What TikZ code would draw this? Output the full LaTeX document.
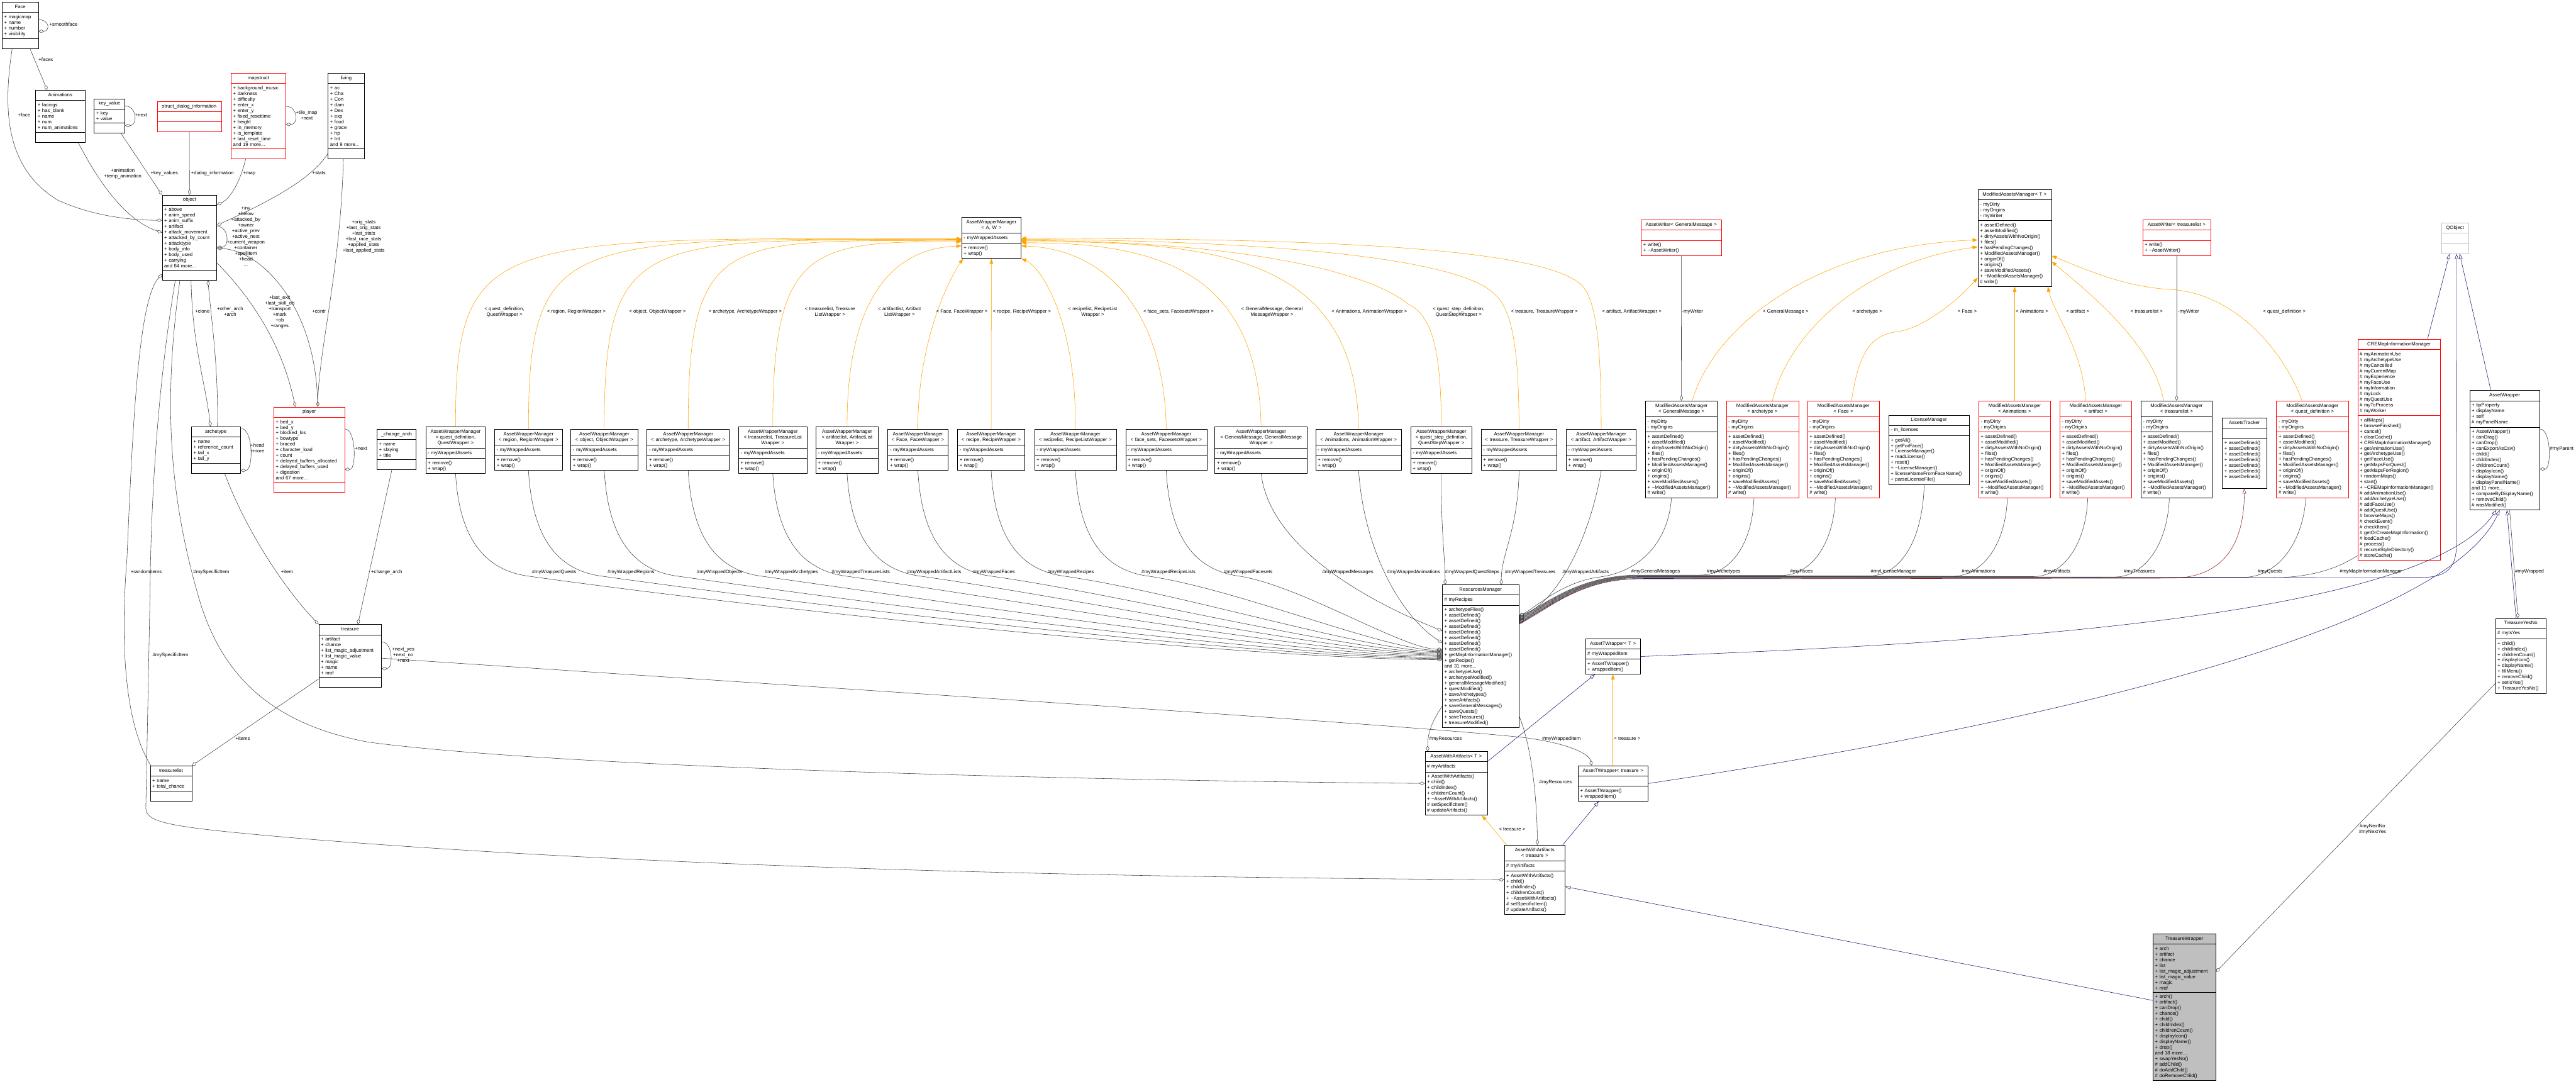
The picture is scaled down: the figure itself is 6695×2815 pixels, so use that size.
\documentclass[tikz,border=0pt]{standalone}
\usepackage{fontspec}
\setmainfont{Liberation Sans}
\usepackage{tikz}
\usetikzlibrary{arrows.meta,shapes.multipart,calc}

\definecolor{dxorange}{HTML}{FFA500}
\definecolor{dxblue}{HTML}{191970}
\definecolor{dxgrey}{HTML}{404040}
\definecolor{dxred}{HTML}{FF0000}
\definecolor{dxbrick}{HTML}{8B1A1A}
\definecolor{dxlight}{HTML}{BFBFBF}

\newcommand\cfont{\fontsize{9.5}{11}\selectfont\strut}
\newcommand\ctitle[1]{\makebox[\linewidth]{\begin{tabular}[t]{@{}c@{}}#1\end{tabular}}}
\newcommand\wrapops{+ remove()\\+ wrap()}
\newcommand\mamops{+ assetDefined()\\+ assetModified()\\+ dirtyAssetsWithNoOrigin()\\+ files()\\+ hasPendingChanges()\\+ ModifiedAssetsManager()\\+ originOf()\\+ origins()\\+ saveModifiedAssets()\\+ \textasciitilde ModifiedAssetsManager()\\\# write()}
\newcommand\awaops{+ AssetWithArtifacts()\\+ child()\\+ childIndex()\\+ childrenCount()\\+ \textasciitilde AssetWithArtifacts()\\\# setSpecificItem()\\\# updateArtifacts()}

\begin{document}
\begin{tikzpicture}[x=0.75pt, y=-0.75pt,
  cls/.style={rectangle split, rectangle split parts=3, draw=black, line width=0.8pt, anchor=north west,
    inner xsep=4pt, inner ysep=4pt, align=left, font=\cfont, fill=white},
  redcls/.style={cls, draw=dxred},
  cw/.style={text width={0.75*#1pt-8pt}},
  member/.style={draw=dxgrey, line width=0.7pt, -{Diamond[open, length=11pt, width=6.5pt]}},
  inherit/.style={draw=dxblue, line width=0.7pt, -{Triangle[open, length=10pt, width=7pt]}},
  privinh/.style={draw=dxbrick, line width=0.7pt, -{Triangle[open, length=10pt, width=7pt]}},
  tmpl/.style={draw=dxorange, line width=0.7pt, -{Triangle[length=10pt, width=7pt]}},
  lbl/.style={font=\cfont, align=center, inner sep=0pt},
]
\useasboundingbox (0,0) rectangle (6695,2815);

% game structures
\node[cls, cw=94] (face) at (5,5) {\ctitle{Face}
  \nodepart{second} + magicmap\\+ name\\+ number\\+ visibility
  \nodepart{third}};
\node[cls, cw=128] (animations) at (92,234) {\ctitle{Animations}
  \nodepart{second} + facings\\+ has\_blank\\+ name\\+ num\\+ num\_animations
  \nodepart{third}};
\node[cls, cw=80] (keyvalue) at (244,256) {\ctitle{key\_value}
  \nodepart{second} + key\\+ value
  \nodepart{third}};
\node[redcls, cw=167] (dialoginfo) at (408,263) {\ctitle{struct\_dialog\_information}
  \nodepart{second}
  \nodepart{third}};
\node[redcls, cw=142] (mapstruct) at (600,190) {\ctitle{mapstruct}
  \nodepart{second} + background\_music\\+ darkness\\+ difficulty\\+ enter\_x\\+ enter\_y\\+ fixed\_resettime\\+ height\\+ in\_memory\\+ is\_template\\+ last\_reset\_time\\and 19 more...
  \nodepart{third}};
\node[cls, cw=94] (living) at (852,190) {\ctitle{living}
  \nodepart{second} + ac\\+ Cha\\+ Con\\+ dam\\+ Dex\\+ exp\\+ food\\+ grace\\+ hp\\+ Int\\and 9 more...
  \nodepart{third}};
\node[cls, cw=142] (object) at (421,506) {\ctitle{object}
  \nodepart{second} + above\\+ anim\_speed\\+ anim\_suffix\\+ artifact\\+ attack\_movement\\+ attacked\_by\_count\\+ attacktype\\+ body\_info\\+ body\_used\\+ carrying\\and 84 more...
  \nodepart{third}};
\node[cls, cw=127] (archetype) at (497,1108) {\ctitle{archetype}
  \nodepart{second} + name\\+ reference\_count\\+ tail\_x\\+ tail\_y
  \nodepart{third}};
\node[redcls, cw=184] (player) at (711,1057) {\ctitle{player}
  \nodepart{second} + bed\_x\\+ bed\_y\\+ blocked\_los\\+ bowtype\\+ braced\\+ character\_load\\+ count\\+ delayed\_buffers\_allocated\\+ delayed\_buffers\_used\\+ digestion\\and 67 more...
  \nodepart{third}};
\node[cls, cw=102] (changearch) at (979,1115) {\ctitle{\_change\_arch}
  \nodepart{second} + name\\+ slaying\\+ title
  \nodepart{third}};
\node[cls, cw=163] (treasure) at (828,1622) {\ctitle{treasure}
  \nodepart{second} + artifact\\+ chance\\+ list\_magic\_adjustment\\+ list\_magic\_value\\+ magic\\+ name\\+ nrof
  \nodepart{third}};
\node[cls, cw=108] (treasurelist) at (390,1989) {\ctitle{treasurelist}
  \nodepart{second} + name\\+ total\_chance
  \nodepart{third}};

% wrapper managers
\node[cls, cw=154] (awmbase) at (2499,564) {\ctitle{AssetWrapperManager\\< A, W >}
  \nodepart{second} - myWrappedAssets
  \nodepart{third} \wrapops};
\node[cls, cw=155] (awmquest) at (1106,1108) {\ctitle{AssetWrapperManager\\< quest\_definition,\\QuestWrapper >}
  \nodepart{second} - myWrappedAssets
  \nodepart{third} \wrapops};
\node[cls, cw=176] (awmregion) at (1285,1115) {\ctitle{AssetWrapperManager\\< region, RegionWrapper >}
  \nodepart{second} - myWrappedAssets
  \nodepart{third} \wrapops};
\node[cls, cw=174] (awmobject) at (1483,1115) {\ctitle{AssetWrapperManager\\< object, ObjectWrapper >}
  \nodepart{second} - myWrappedAssets
  \nodepart{third} \wrapops};
\node[cls, cw=214] (awmarch) at (1681,1115) {\ctitle{AssetWrapperManager\\< archetype, ArchetypeWrapper >}
  \nodepart{second} - myWrappedAssets
  \nodepart{third} \wrapops};
\node[cls, cw=178] (awmtlist) at (1919,1108) {\ctitle{AssetWrapperManager\\< treasurelist, TreasureList\\Wrapper >}
  \nodepart{second} - myWrappedAssets
  \nodepart{third} \wrapops};
\node[cls, cw=162] (awmalist) at (2120,1108) {\ctitle{AssetWrapperManager\\< artifactlist, ArtifactList\\Wrapper >}
  \nodepart{second} - myWrappedAssets
  \nodepart{third} \wrapops};
\node[cls, cw=156] (awmface) at (2307,1115) {\ctitle{AssetWrapperManager\\< Face, FaceWrapper >}
  \nodepart{second} - myWrappedAssets
  \nodepart{third} \wrapops};
\node[cls, cw=175] (awmrecipe) at (2488,1115) {\ctitle{AssetWrapperManager\\< recipe, RecipeWrapper >}
  \nodepart{second} - myWrappedAssets
  \nodepart{third} \wrapops};
\node[cls, cw=213] (awmrlist) at (2688,1115) {\ctitle{AssetWrapperManager\\< recipelist, RecipeListWrapper >}
  \nodepart{second} - myWrappedAssets
  \nodepart{third} \wrapops};
\node[cls, cw=211] (awmfsets) at (2925,1115) {\ctitle{AssetWrapperManager\\< face\_sets, FacesetsWrapper >}
  \nodepart{second} - myWrappedAssets
  \nodepart{third} \wrapops};
\node[cls, cw=240] (awmmsg) at (3157,1108) {\ctitle{AssetWrapperManager\\< GeneralMessage, GeneralMessage\\Wrapper >}
  \nodepart{second} - myWrappedAssets
  \nodepart{third} \wrapops};
\node[cls, cw=223] (awmanim) at (3419,1115) {\ctitle{AssetWrapperManager\\< Animations, AnimationWrapper >}
  \nodepart{second} - myWrappedAssets
  \nodepart{third} \wrapops};
\node[cls, cw=159] (awmqstep) at (3666,1108) {\ctitle{AssetWrapperManager\\< quest\_step\_definition,\\QuestStepWrapper >}
  \nodepart{second} - myWrappedAssets
  \nodepart{third} \wrapops};
\node[cls, cw=197] (awmtreasure) at (3849,1115) {\ctitle{AssetWrapperManager\\< treasure, TreasureWrapper >}
  \nodepart{second} - myWrappedAssets
  \nodepart{third} \wrapops};
\node[cls, cw=182] (awmartifact) at (4070,1115) {\ctitle{AssetWrapperManager\\< artifact, ArtifactWrapper >}
  \nodepart{second} - myWrappedAssets
  \nodepart{third} \wrapops};

% modified assets managers
\node[cls, cw=191] (mambase) at (5140,492) {\ctitle{ModifiedAssetsManager< T >}
  \nodepart{second} - myDirty\\- myOrigins\\- myWriter
  \nodepart{third} \mamops};
\node[redcls, cw=208] (writermsg) at (4265,571) {\ctitle{AssetWriter< GeneralMessage >}
  \nodepart{second}
  \nodepart{third} + write()\\+ \textasciitilde AssetWriter()};
\node[redcls, cw=177] (writertlist) at (5568,571) {\ctitle{AssetWriter< treasurelist >}
  \nodepart{second}
  \nodepart{third} + write()\\+ \textasciitilde AssetWriter()};
\node[cls, cw=187] (mammsg) at (4276,1041) {\ctitle{ModifiedAssetsManager\\< GeneralMessage >}
  \nodepart{second} - myDirty\\- myOrigins
  \nodepart{third} \mamops};
\node[redcls, cw=188] (mamarch) at (4486,1041) {\ctitle{ModifiedAssetsManager\\< archetype >}
  \nodepart{second} - myDirty\\- myOrigins
  \nodepart{third} \mamops};
\node[redcls, cw=187] (mamface) at (4697,1041) {\ctitle{ModifiedAssetsManager\\< Face >}
  \nodepart{second} - myDirty\\- myOrigins
  \nodepart{third} \mamops};
\node[cls, cw=209] (license) at (4908,1078) {\ctitle{LicenseManager}
  \nodepart{second} - m\_licenses
  \nodepart{third} + getAll()\\+ getForFace()\\+ LicenseManager()\\+ readLicense()\\+ reset()\\+ \textasciitilde LicenseManager()\\+ licenseNameFromFaceName()\\+ parseLicenseFile()};
\node[redcls, cw=187] (mamanim) at (5142,1041) {\ctitle{ModifiedAssetsManager\\< Animations >}
  \nodepart{second} - myDirty\\- myOrigins
  \nodepart{third} \mamops};
\node[redcls, cw=187] (mamartifact) at (5353,1041) {\ctitle{ModifiedAssetsManager\\< artifact >}
  \nodepart{second} - myDirty\\- myOrigins
  \nodepart{third} \mamops};
\node[cls, cw=185] (mamtlist) at (5564,1041) {\ctitle{ModifiedAssetsManager\\< treasurelist >}
  \nodepart{second} - myDirty\\- myOrigins
  \nodepart{third} \mamops};
\node[cls, cw=115] (tracker) at (5775,1085) {\ctitle{AssetsTracker}
  \nodepart{second}
  \nodepart{third} + assetDefined()\\+ assetDefined()\\+ assetDefined()\\+ assetDefined()\\+ assetDefined()\\+ assetDefined()\\+ assetDefined()\rule[-15pt]{0pt}{15pt}};
\node[redcls, cw=187] (mamquest) at (5916,1041) {\ctitle{ModifiedAssetsManager\\< quest\_definition >}
  \nodepart{second} - myDirty\\- myOrigins
  \nodepart{third} \mamops};

% right column
\node[cls, draw=dxlight, cw=70] (qobject) at (6345,579) {\ctitle{QObject}
  \nodepart{second}
  \nodepart{third}};
\node[redcls, cw=215] (cremap) at (6127,881) {\ctitle{CREMapInformationManager}
  \nodepart{second} \# myAnimationUse\\\# myArchetypeUse\\\# myCancelled\\\# myCurrentMap\\\# myExperience\\\# myFaceUse\\\# myInformation\\\# myLock\\\# myQuestUse\\\# myToProcess\\\# myWorker
  \nodepart{third} + allMaps()\\+ browseFinished()\\+ cancel()\\+ clearCache()\\+ CREMapInformationManager()\\+ getAnimationUse()\\+ getArchetypeUse()\\+ getFaceUse()\\+ getMapsForQuest()\\+ getMapsForRegion()\\+ randomMaps()\\+ start()\\+ \textasciitilde CREMapInformationManager()\\\# addAnimationUse()\\\# addArchetypeUse()\\\# addFaceUse()\\\# addQuestUse()\\\# browseMaps()\\\# checkEvent()\\\# checkItem()\\\# getOrCreateMapInformation()\\\# loadCache()\\\# process()\\\# recurseStyleDirectory()\\\# storeCache()};
\node[cls, cw=182] (assetwrapper) at (6418,1014) {\ctitle{AssetWrapper}
  \nodepart{second} + tipProperty\\+ displayName\\+ self\\\# myPanelName
  \nodepart{third} + AssetWrapper()\\+ canDrag()\\+ canDrop()\\+ canExportAsCsv()\\+ child()\\+ childIndex()\\+ childrenCount()\\+ displayIcon()\\+ displayName()\\+ displayPanelName()\\and 11 more...\\+ compareByDisplayName()\\+ removeChild()\\\# wasModified()};
\node[cls, cw=131] (yesno) at (6485,1606) {\ctitle{TreasureYesNo}
  \nodepart{second} \# myIsYes
  \nodepart{third} + child()\\+ childIndex()\\+ childrenCount()\\+ displayIcon()\\+ displayName()\\+ fillMenu()\\+ removeChild()\\+ setIsYes()\\+ TreasureYesNo()};
\node[cls, fill=dxlight, cw=163] (twrapper) at (5595,2426) {\ctitle{TreasureWrapper}
  \nodepart{second} + arch\\+ artifact\\+ chance\\+ list\\+ list\_magic\_adjustment\\+ list\_magic\_value\\+ magic\\+ nrof
  \nodepart{third} + arch()\\+ artifact()\\+ canDrop()\\+ chance()\\+ child()\\+ childIndex()\\+ childrenCount()\\+ displayIcon()\\+ displayName()\\+ drop()\\and 18 more...\\+ swapYesNo()\\\# addChild()\\\# doAddChild()\\\# doRemoveChild()};

% resources and wrapped items
\node[cls, cw=199] (resources) at (3748,1519) {\ctitle{ResourcesManager}
  \nodepart{second} \# myRecipes
  \nodepart{third} + archetypeFiles()\\+ assetDefined()\\+ assetDefined()\\+ assetDefined()\\+ assetDefined()\\+ assetDefined()\\+ assetDefined()\\+ assetDefined()\\+ getMapInformationManager()\\+ getRecipe()\\and 31 more...\\+ archetypeUse()\\+ archetypeModified()\\+ generalMessageModified()\\+ questModified()\\+ saveArchetypes()\\+ saveArtifacts()\\+ saveGeneralMessages()\\+ saveQuests()\\+ saveTreasures()\\+ treasureModified()};
\node[cls, cw=143] (atwbase) at (4120,1659) {\ctitle{AssetTWrapper< T >}
  \nodepart{second} \# myWrappedItem
  \nodepart{third} + AssetTWrapper()\\+ wrappedItem()};
\node[cls, cw=162] (awabase) at (3703,1952) {\ctitle{AssetWithArtifacts< T >}
  \nodepart{second} \# myArtifacts
  \nodepart{third} \awaops};
\node[cls, cw=181] (atwtreasure) at (4101,1989) {\ctitle{AssetTWrapper< treasure >}
  \nodepart{second}
  \nodepart{third} + AssetTWrapper()\\+ wrappedItem()};
\node[cls, cw=158] (awatreasure) at (3909,2195) {\ctitle{AssetWithArtifacts\\< treasure >}
  \nodepart{second} \# myArtifacts
  \nodepart{third} \awaops};

% edges around object
\draw[member] ($(face.east)+(0,-15)$) .. controls +(30,0) and +(30,0) .. ($(face.east)+(0,15)$);
\draw[member] ($(face.south)+(26,0)$) -- ($(animations.north)+(-34,0)$);
\draw[member] ($(face.south)+(-21,0)$) .. controls (5,300) and (20,440) .. (150,520) .. controls (250,565) and (350,572) .. ($(object.west)+(0,-45)$);
\draw[member] ($(animations.south)+(47,0)$) .. controls (250,460) and (320,570) .. ($(object.west)+(0,-13)$);
\draw[member] ($(keyvalue.south)+(30,0)$) -- (object.north west);
\draw[member] ($(keyvalue.east)+(0,-26)$) .. controls +(32,0) and +(32,0) .. ($(keyvalue.east)+(0,25)$);
\draw[member] (dialoginfo.south) -- (object.north);
\draw[member] ($(mapstruct.south)+(-33,0)$) .. controls (625,470) and (600,515) .. ($(object.east)+(0,-85)$);
\draw[member] ($(mapstruct.east)+(0,-25)$) .. controls +(32,0) and +(32,0) .. ($(mapstruct.east)+(0,22)$);
\draw[member] ($(living.west)+(0,98)$) .. controls (800,480) and (650,545) .. ($(object.east)+(0,-32)$);
\draw[member] ($(living.south)+(-7,0)$) .. controls (885,700) and (830,900) .. ($(player.north)+(22,0)$);
\draw[member] ($(object.east)+(0,-29)$) .. controls +(32,0) and +(32,0) .. ($(object.east)+(0,25)$);
\draw[member] ($(object.east)+(0,66)$) .. controls (640,760) and (730,880) .. ($(player.north)+(-36,0)$);
\draw[member] ($(player.north)+(22,0)$) .. controls (825,800) and (680,650) .. ($(object.east)+(0,28)$);
\draw[member] ($(object.south)+(4,0)$) .. controls (500,900) and (535,1000) .. ($(archetype.north)+(-14,0)$);
\draw[member] ($(archetype.north)+(4,0)$) .. controls (568,950) and (548,820) .. ($(object.south)+(48,0)$);
\draw[member] ($(archetype.east)+(0,-57)$) .. controls +(34,0) and +(34,0) .. ($(archetype.east)+(0,53)$);
\draw[member] ($(player.east)+(0,-54)$) .. controls +(30,0) and +(30,0) .. ($(player.east)+(0,51)$);
\draw[member] ($(treasurelist.north west)+(2,0)$) .. controls (330,1890) and (310,1700) .. (330,1450) .. controls (345,1100) and (360,780) .. ($(object.west)+(0,95)$);
\draw[member] ($(object.south)+(-37,0)$) .. controls (410,1000) and (392,1300) .. (390,1540) -- (379,2100) .. controls (380,2140) and (450,2150) .. (800,2180) .. controls (1800,2260) and (3000,2280) .. (awatreasure.west);
\draw[member] ($(object.south)+(-25,0)$) .. controls (430,1000) and (430,1250) .. (513,1540) .. controls (570,1750) and (700,1880) .. (957,1928) .. controls (1500,2000) and (3000,2030) .. (awabase.west);
\draw[member] ($(archetype.south)+(23,0)$) .. controls (640,1380) and (740,1530) .. (treasure.north west);
\draw[member] ($(changearch.south)+(-12,0)$) -- ($(treasure.north)+(20,0)$);
\draw[member] ($(treasure.east)+(0,-36)$) .. controls +(30,0) and +(30,0) .. ($(treasure.east)+(0,33)$);
\draw[member] ($(treasure.west)+(0,60)$) -- (treasurelist.north east);
\draw[member] ($(treasure.east)+(0,6)$) .. controls (2500,1810) and (3600,1880) .. (3950,1915) .. controls (4080,1930) and (4130,1960) .. ($(atwtreasure.north)+(-55,0)$);

% template instances of AssetWrapperManager
\draw[tmpl] (awmquest.north) .. controls (1183,600) and (1283,620) .. ($(awmbase.west)+(0,2)$);
\draw[tmpl] (awmregion.north) .. controls (1373,600) and (1473,621) .. ($(awmbase.west)+(0,4)$);
\draw[tmpl] (awmobject.north) .. controls (1570,600) and (1670,623) .. ($(awmbase.west)+(0,6)$);
\draw[tmpl] (awmarch.north) .. controls (1788,600) and (1888,625) .. ($(awmbase.west)+(0,8)$);
\draw[tmpl] (awmtlist.north) .. controls (2008,640) and (2108,627) .. ($(awmbase.west)+(0,10)$);
\draw[tmpl] (awmalist.north) .. controls (2201,760) and (2330,645) .. ($(awmbase.west)+(0,21)$);
\draw[tmpl] (awmface.north) .. controls (2385,880) and (2470,720) .. ($(awmbase.south west)+(4,0)$);
\draw[tmpl] (awmrecipe.north) -- (awmbase.south);
\draw[tmpl] (awmrlist.north) .. controls (2797,820) and (2700,690) .. (awmbase.south east);
\draw[tmpl] (awmfsets.north) .. controls (3025,780) and (2850,645) .. ($(awmbase.east)+(0,21)$);
\draw[tmpl] (awmmsg.north) .. controls (3270,700) and (3000,630) .. ($(awmbase.east)+(0,13)$);
\draw[tmpl] (awmanim.north) .. controls (3525,660) and (3150,627) .. ($(awmbase.east)+(0,10)$);
\draw[tmpl] (awmqstep.north) .. controls (3745,900) and (3720,820) .. (3660,790) .. controls (3550,700) and (3200,626) .. ($(awmbase.east)+(0,7)$);
\draw[tmpl] (awmtreasure.north) .. controls (3947,900) and (3930,800) .. (3880,760) .. controls (3780,670) and (3300,625) .. ($(awmbase.east)+(0,4)$);
\draw[tmpl] (awmartifact.north) .. controls (4161,900) and (4150,780) .. (4110,740) .. controls (4000,640) and (3400,620) .. ($(awmbase.east)+(0,1)$);

% wrapped assets held by ResourcesManager
\draw[member] (awmquest.south) .. controls (1193,1390) and (1253,1478) .. (1368,1496) .. controls (2082,1596) and (3272,1712) .. ($(resources.west)+(0,9)$);
\draw[member] (awmregion.south) .. controls (1383,1390) and (1443,1478) .. (1558,1496) .. controls (2215,1588) and (3310,1709) .. ($(resources.west)+(0,6)$);
\draw[member] (awmobject.south) .. controls (1580,1390) and (1640,1478) .. (1755,1496) .. controls (2353,1580) and (3349,1706) .. ($(resources.west)+(0,3)$);
\draw[member] (awmarch.south) .. controls (1798,1390) and (1858,1478) .. (1973,1496) .. controls (2506,1571) and (3393,1703) .. (resources.west);
\draw[member] (awmtlist.south) .. controls (2018,1390) and (2078,1478) .. (2193,1496) .. controls (2660,1561) and (3437,1700) .. ($(resources.west)+(0,-3)$);
\draw[member] (awmalist.south) .. controls (2211,1390) and (2271,1478) .. (2386,1496) .. controls (2795,1553) and (3476,1697) .. ($(resources.west)+(0,-6)$);
\draw[member] (awmface.south) .. controls (2395,1390) and (2455,1478) .. (2570,1496) .. controls (2923,1545) and (3512,1694) .. ($(resources.west)+(0,-9)$);
\draw[member] (awmrecipe.south) .. controls (2585,1390) and (2645,1478) .. (2760,1496) .. controls (3056,1537) and (3550,1691) .. ($(resources.west)+(0,-12)$);
\draw[member] (awmrlist.south) .. controls (2804,1390) and (2864,1478) .. (2979,1496) .. controls (3210,1528) and (3594,1688) .. ($(resources.west)+(0,-15)$);
\draw[member] (awmfsets.south) .. controls (3040,1390) and (3100,1478) .. (3215,1496) .. controls (3375,1518) and (3641,1685) .. ($(resources.west)+(0,-18)$);
\draw[member] (awmmsg.south) .. controls (3300,1420) and (3550,1560) .. ($(resources.west)+(0,-66)$);
\draw[member] (awmanim.south) .. controls (3545,1430) and (3640,1600) .. ($(resources.west)+(0,-35)$);
\draw[member] (awmqstep.south) .. controls (3745,1380) and (3755,1440) .. ($(resources.north)+(-92,0)$);
\draw[member] (awmtreasure.south) .. controls (3945,1380) and (3901,1440) .. ($(resources.north)+(54,0)$);
\draw[member] (awmartifact.south) .. controls (4130,1410) and (4040,1570) .. ($(resources.east)+(0,-106)$);

% template instances of ModifiedAssetsManager
\draw[tmpl] ($(mammsg.north)+(28,0)$) .. controls (4450,860) and (4700,640) .. ($(mambase.west)+(0,5)$);
\draw[tmpl] ($(mamarch.north)+(26,0)$) .. controls (4650,860) and (4850,680) .. ($(mambase.west)+(0,23)$);
\draw[tmpl] ($(mamface.north)+(21,0)$) .. controls (4830,920) and (4860,870) .. (4930,862) .. controls (4990,855) and (5080,790) .. ($(mambase.west)+(0,103)$);
\draw[tmpl] (mamanim.north) -- (mambase.south);
\draw[tmpl] ($(mamartifact.north)+(-26,0)$) .. controls (5410,900) and (5340,820) .. ($(mambase.south)+(86,0)$);
\draw[tmpl] ($(mamtlist.north)+(-34,0)$) .. controls (5600,900) and (5430,760) .. ($(mambase.east)+(0,61)$);
\draw[tmpl] ($(mamquest.north)+(-27,0)$) .. controls (5930,900) and (5800,760) .. (5640,752) .. controls (5520,745) and (5420,700) .. ($(mambase.east)+(0,46)$);
\draw[member] (writermsg.south) -- (mammsg.north);
\draw[member] (writertlist.south) -- (mamtlist.north);

% managers held by ResourcesManager
\draw[member] ($(mammsg.south)+(-26,0)$) .. controls (4335,1420) and (4250,1490) .. (4150,1500) .. controls (4060,1515) and (4000,1570) .. ($(resources.east)+(0,-103)$);
\draw[member] ($(mamarch.south)+(-22,0)$) .. controls +(-5,130) and +(70,0) .. (4420,1494) -- (4260,1494) .. controls (4110,1495) and (4030,1560) .. ($(resources.east)+(0,-101)$);
\draw[member] ($(mamface.south)+(-21,0)$) .. controls +(-5,130) and +(70,0) .. (4630,1495) -- (4260,1495) .. controls (4110,1496) and (4030,1562) .. ($(resources.east)+(0,-99)$);
\draw[member] ($(license.south)+(-12,0)$) .. controls +(-5,160) and +(70,0) .. (4860,1496) -- (4260,1496) .. controls (4110,1497) and (4030,1564) .. ($(resources.east)+(0,-97)$);
\draw[member] ($(mamanim.south)+(-19,0)$) .. controls +(-5,130) and +(70,0) .. (5076,1497) -- (4260,1497) .. controls (4110,1498) and (4030,1566) .. ($(resources.east)+(0,-95)$);
\draw[member] ($(mamartifact.south)+(-21,0)$) .. controls +(-5,130) and +(70,0) .. (5285,1498) -- (4260,1498) .. controls (4110,1499) and (4030,1568) .. ($(resources.east)+(0,-93)$);
\draw[member] ($(mamtlist.south)+(-19,0)$) .. controls +(-5,130) and +(70,0) .. (5497,1499) -- (4260,1499) .. controls (4110,1500) and (4030,1570) .. ($(resources.east)+(0,-91)$);
\draw[member] ($(mamquest.south)+(-17,0)$) .. controls +(-10,130) and +(80,0) .. (5830,1500) -- (4260,1500) .. controls (4110,1501) and (4030,1572) .. ($(resources.east)+(0,-89)$);
\draw[member] ($(cremap.west)+(0,275)$) .. controls (6070,1480) and (6000,1501) .. (5900,1501) -- (4260,1501) .. controls (4110,1502) and (4030,1574) .. ($(resources.east)+(0,-87)$);
\draw[inherit] ($(resources.east)+(0,-85)$) .. controls (4030,1576) and (4110,1503) .. (4260,1503) -- (6300,1500) .. controls (6375,1498) and (6385,1460) .. (6385,1400) -- ($(qobject.south)+(4,0)$);
\draw[privinh] ($(resources.east)+(0,-83)$) .. controls (4030,1578) and (4110,1504) .. (4260,1504) -- (5650,1502) .. controls (5790,1498) and (5832,1400) .. (tracker.south);

% inheritance on the right
\draw[inherit] ($(cremap.north)+(74,0)$) -- ($(qobject.south)+(-14,0)$);
\draw[inherit] ($(assetwrapper.north)+(-36,0)$) -- ($(qobject.south)+(12,0)$);
\draw[member] ($(assetwrapper.east)+(0,-55)$) .. controls +(30,0) and +(30,0) .. ($(assetwrapper.east)+(0,49)$);
\draw[inherit] ($(yesno.north)+(-12,0)$) -- ($(assetwrapper.south)+(6,0)$);
\draw[member] ($(assetwrapper.south)+(13,0)$) -- ($(yesno.north)+(-7,0)$);
\draw[member] ($(yesno.west)+(0,72)$) -- ($(twrapper.east)+(0,-92)$);
\draw[inherit] ($(twrapper.west)+(0,-18)$) -- ($(awatreasure.east)+(0,18)$);
\draw[inherit] (atwbase.east) .. controls (5200,1670) and (6300,1600) .. ($(assetwrapper.south)+(-22,0)$);
\draw[inherit] (atwtreasure.east) .. controls (5200,1900) and (6350,1650) .. ($(assetwrapper.south)+(-13,0)$);
\draw[inherit] ($(awabase.east)+(0,-57)$) -- ($(atwbase.south)+(-47,0)$);
\draw[tmpl] (atwtreasure.north) -- (atwbase.south);
\draw[tmpl] ($(awatreasure.north west)+(6,0)$) -- ($(awabase.south)+(67,0)$);
\draw[inherit] ($(awatreasure.north)+(73,0)$) -- ($(atwtreasure.south)+(-37,0)$);
\draw[member] ($(resources.west)+(0,130)$) .. controls (3725,1870) and (3710,1900) .. ($(awabase.north)+(-74,0)$);
\draw[member] ($(resources.east)+(0,155)$) .. controls (3985,1950) and (3995,2100) .. ($(awatreasure.north)+(7,0)$);

% edge labels
\node[lbl] (lbsmooth) at (165,65) {+smoothface};
\node[lbl] (lbfaces) at (119,157) {+faces};
\node[lbl] (lbface) at (63,301) {+face};
\node[lbl] (lbnextkv) at (367,301) {+next};
\node[lbl] (lbtile) at (797,301) {+tile\_map\\+next};
\node[lbl] (lbanim) at (319,452) {+animation\\+temp\_animation};
\node[lbl] (lbkeyval) at (427,451) {+key\_values};
\node[lbl] (lbdialog) at (552,451) {+dialog\_information};
\node[lbl] (lbmap) at (648,451) {+map};
\node[lbl] (lbstats) at (829,451) {+stats};
\node[lbl] (lbinv) at (639,616) {+inv\\+below\\+attacked\_by\\+owner\\+active\_prev\\+active\_next\\+current\_weapon\\+container\\+spellitem\\+head\\...};
\node[lbl] (lbstatsp) at (945,616) {+orig\_stats\\+last\_orig\_stats\\+last\_stats\\+last\_race\_stats\\+applied\_stats\\+last\_applied\_stats};
\node[lbl] (lbexit) at (727,811) {+last\_exit\\+last\_skill\_ob\\+transport\\+mark\\+ob\\+ranges};
\node[lbl] (lbcontr) at (829,811) {+contr};
\node[lbl] (lbclone) at (526,811) {+clone};
\node[lbl] (lbarch) at (598,811) {+other\_arch\\+arch};
\node[lbl] (lbhead) at (669,1167) {+head\\+more};
\node[lbl] (lbnextpl) at (938,1166) {+next};
\node[lbl] (lbrandom) at (380,1487) {+randomitems};
\node[lbl] (lbspecb) at (549,1487) {\#mySpecificItem};
\node[lbl] (lbitem) at (746,1487) {+item};
\node[lbl] (lbchange) at (1005,1487) {+change\_arch};
\node[lbl] (lbspeca) at (443,1703) {\#mySpecificItem};
\node[lbl] (lbnexttr) at (1048,1703) {+next\_yes\\+next\_no\\+next};
\node[lbl] (lbitems) at (631,1920) {+items};

\node[lbl] (lbt1) at (1311,811) {< quest\_definition,\\QuestWrapper >};
\node[lbl] (lbt2) at (1498,811) {< region, RegionWrapper >};
\node[lbl] (lbt3) at (1709,811) {< object, ObjectWrapper >};
\node[lbl] (lbt4) at (1937,811) {< archetype, ArchetypeWrapper >};
\node[lbl] (lbt5) at (2157,811) {< treasurelist, Treasure\\ListWrapper >};
\node[lbl] (lbt6) at (2338,811) {< artifactlist, Artifact\\ListWrapper >};
\node[lbl] (lbt7) at (2500,811) {< Face, FaceWrapper >};
\node[lbl] (lbt8) at (2656,811) {< recipe, RecipeWrapper >};
\node[lbl] (lbt9) at (2840,811) {< recipelist, RecipeList\\Wrapper >};
\node[lbl] (lbt10) at (3063,811) {< face\_sets, FacesetsWrapper >};
\node[lbl] (lbt11) at (3306,811) {< GeneralMessage, General\\MessageWrapper >};
\node[lbl] (lbt12) at (3559,811) {< Animations, AnimationWrapper >};
\node[lbl] (lbt13) at (3791,811) {< quest\_step\_definition,\\QuestStepWrapper >};
\node[lbl] (lbt14) at (4014,811) {< treasure, TreasureWrapper >};
\node[lbl] (lbt15) at (4241,811) {< artifact, ArtifactWrapper >};

\node[lbl] (lbw1) at (1440,1487) {\#myWrappedQuests};
\node[lbl] (lbw2) at (1640,1487) {\#myWrappedRegions};
\node[lbl] (lbw3) at (1870,1487) {\#myWrappedObjects};
\node[lbl] (lbw4) at (2057,1487) {\#myWrappedArchetypes};
\node[lbl] (lbw5) at (2237,1487) {\#myWrappedTreasureLists};
\node[lbl] (lbw6) at (2428,1487) {\#myWrappedArtifactLists};
\node[lbl] (lbw7) at (2583,1487) {\#myWrappedFaces};
\node[lbl] (lbw8) at (2783,1487) {\#myWrappedRecipes};
\node[lbl] (lbw9) at (3037,1487) {\#myWrappedRecipeLists};
\node[lbl] (lbw10) at (3244,1487) {\#myWrappedFacesets};
\node[lbl] (lbw11) at (3503,1487) {\#myWrappedMessages};
\node[lbl] (lbw12) at (3674,1487) {\#myWrappedAnimations};
\node[lbl] (lbw13) at (3826,1487) {\#myWrappedQuestSteps};
\node[lbl] (lbw14) at (3977,1487) {\#myWrappedTreasures};
\node[lbl] (lbw15) at (4121,1487) {\#myWrappedArtifacts};

\node[lbl] (lbm1) at (4641,810) {< GeneralMessage >};
\node[lbl] (lbm2) at (4853,810) {< archetype >};
\node[lbl] (lbm3) at (5113,810) {< Face >};
\node[lbl] (lbm4) at (5281,810) {< Animations >};
\node[lbl] (lbm5) at (5400,810) {< artifact >};
\node[lbl] (lbm6) at (5579,810) {< treasurelist >};
\node[lbl] (lbm7) at (5937,810) {< quest\_definition >};
\node[lbl] (lbwriter1) at (4399,810) {-myWriter};
\node[lbl] (lbwriter2) at (5688,810) {-myWriter};

\node[lbl] (lbgm) at (4303,1486) {\#myGeneralMessages};
\node[lbl] (lbarchs) at (4480,1486) {\#myArchetypes};
\node[lbl] (lbfacess) at (4682,1486) {\#myFaces};
\node[lbl] (lblic) at (4921,1486) {\#myLicenseManager};
\node[lbl] (lbanims) at (5142,1486) {\#myAnimations};
\node[lbl] (lbartis) at (5346,1486) {\#myArtifacts};
\node[lbl] (lbtreas) at (5560,1486) {\#myTreasures};
\node[lbl] (lbquests) at (5900,1486) {\#myQuests};
\node[lbl] (lbmapinfo) at (6162,1486) {\#myMapInformationManager};
\node[lbl] (lbwrapped) at (6574,1486) {\#myWrapped};
\node[lbl] (lbparent) at (6658,1166) {\#myParent};
\node[lbl] (lbnextno) at (6166,2155) {\#myNextNo\\\#myNextYes};

\node[lbl] (lbwitem) at (4058,1920) {\#myWrappedItem};
\node[lbl] (lbres1) at (3757,1920) {\#myResources};
\node[lbl] (lbres2) at (4043,2033) {\#myResources};
\node[lbl] (lbtmpl1) at (4229,1920) {< treasure >};
\node[lbl] (lbtmpl2) at (3930,2155) {< treasure >};
\end{tikzpicture}
\end{document}
